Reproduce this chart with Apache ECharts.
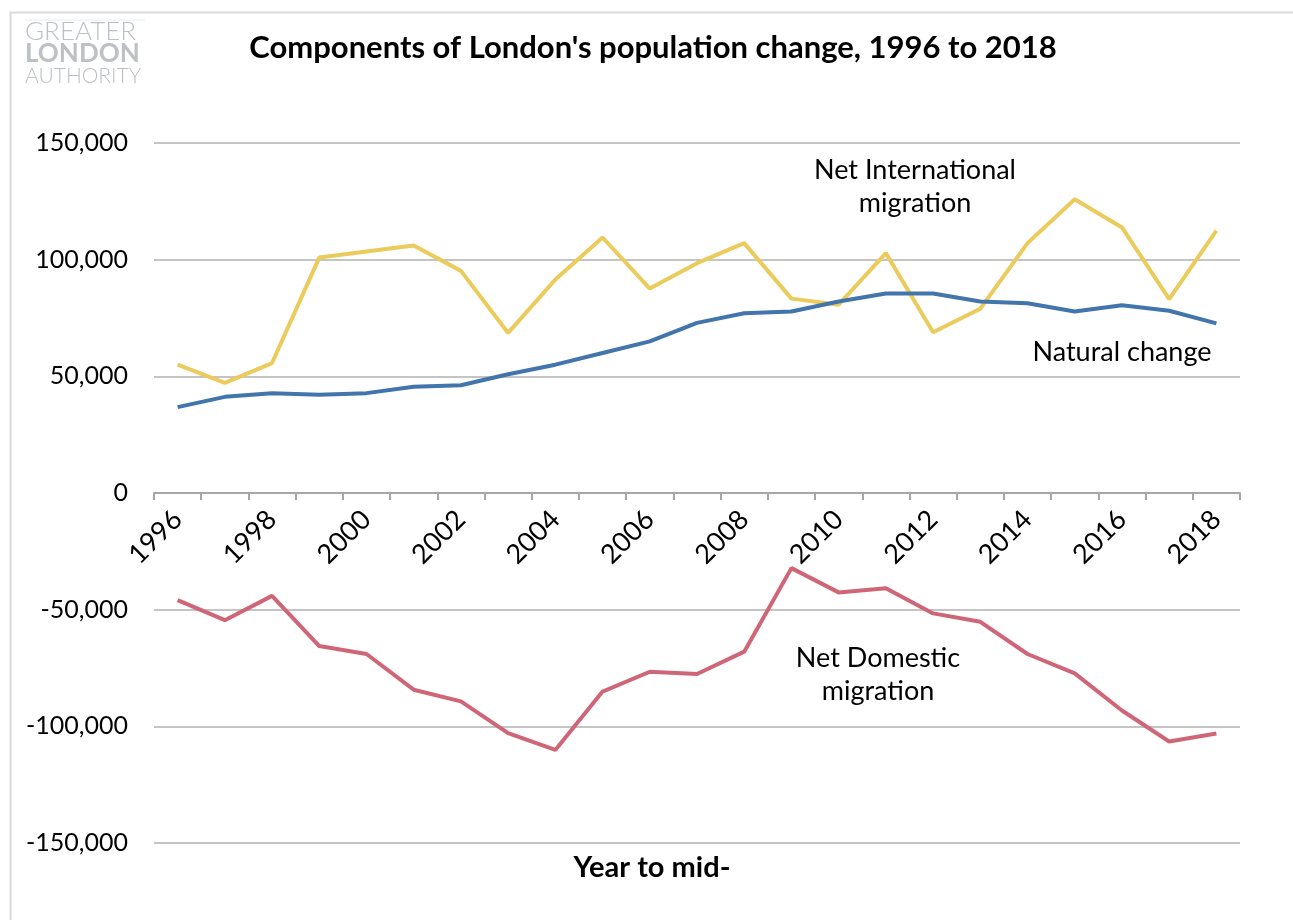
<!DOCTYPE html>
<html>
<head>
<meta charset="utf-8">
<script src="https://cdn.jsdelivr.net/npm/echarts@6/dist/echarts.min.js"></script>
<style>
html,body{margin:0;padding:0;background:#fff;}
#chart{width:1293px;height:920px;}
</style>
</head>
<body>
<div id="chart"></div>
<script>
// ---- data ----
var years = ['1996','1997','1998','1999','2000','2001','2002','2003','2004','2005','2006','2007','2008','2009','2010','2011','2012','2013','2014','2015','2016','2017','2018'];
var naturalChange = [36800, 41200, 42800, 42100, 42800, 45500, 46200, 50900, 55000, 60000, 65000, 72900, 77000, 77800, 82100, 85500, 85500, 82100, 81300, 77800, 80500, 78100, 72700];
var netInternational = [55000, 47200, 55700, 100900, 103500, 106100, 95200, 68600, 91500, 109500, 87600, 98500, 107100, 83300, 80700, 102800, 68900, 79000, 107100, 125900, 113800, 83100, 112400];
var netDomestic = [-45900, -54500, -44100, -65600, -69000, -84300, -89300, -102900, -110100, -85100, -76600, -77600, -68000, -32200, -42600, -40800, -51600, -55200, -69000, -77300, -93200, -106500, -103100];
var yMin = -150000, yMax = 150000, yStep = 50000;

var FONT = 'Lato, "Open Sans", sans-serif';
var chart = echarts.init(document.getElementById('chart'), null, {renderer: 'canvas'});

var gridTop = 143, gridBottomPx = 843;
var zeroY = gridTop + (gridBottomPx - gridTop) * (yMax - 0) / (yMax - yMin);

var option = {
  backgroundColor: '#ffffff',
  animation: false,
  textStyle: {fontFamily: FONT},
  grid: {left: 154, right: 53, top: gridTop, bottom: 920 - gridBottomPx, containLabel: false},
  xAxis: {
    type: 'category',
    data: years,
    boundaryGap: true,
    position: 'bottom',
    offset: -(gridBottomPx - zeroY),
    axisLine: {onZero: false, lineStyle: {color: '#A6A6A6', width: 2}},
    axisTick: {show: true, interval: 0, length: 7, lineStyle: {color: '#A6A6A6', width: 2}},
    axisLabel: {interval: 1, rotate: 45, margin: 22, fontSize: 27, color: '#000', fontFamily: FONT},
    splitLine: {show: false}
  },
  yAxis: {
    type: 'value',
    min: yMin, max: yMax, interval: yStep,
    axisLine: {show: false},
    axisTick: {show: false},
    axisLabel: {fontSize: 25, color: '#000', margin: 26, fontFamily: FONT,
      formatter: function (v) { return v.toLocaleString('en-US'); }},
    splitLine: {lineStyle: {color: '#C4C4C4', width: 2}}
  },
  series: [
    {name: 'Natural change', type: 'line', data: naturalChange, symbol: 'none',
     lineStyle: {color: '#4175AB', width: 4}, itemStyle: {color: '#4175AB'}, z: 3},
    {name: 'Net International migration', type: 'line', data: netInternational, symbol: 'none',
     lineStyle: {color: '#EBCB5B', width: 4}, itemStyle: {color: '#EBCB5B'}, z: 2},
    {name: 'Net Domestic migration', type: 'line', data: netDomestic, symbol: 'none',
     lineStyle: {color: '#CF6677', width: 4}, itemStyle: {color: '#CF6677'}, z: 2}
  ],
  graphic: [
    {type: 'rect', left: 8, top: 10, shape: {width: 1400, height: 1000}, style: {fill: 'none', stroke: '#D9D9D9', lineWidth: 2}, silent: true, z: -1},
    {type: 'line', shape: {x1: 25, y1: 20, x2: 145, y2: 20}, style: {stroke: '#E6EBF0', lineWidth: 1}},
    {type: 'text', x: 25, y: 32, style: {text: 'GREATER', font: '300 26px ' + FONT, fill: '#BDC1C5', verticalAlign: 'middle'}},
    {type: 'text', x: 25, y: 54, style: {text: 'LONDON', font: 'bold 26px ' + FONT, fill: '#BDC1C5', verticalAlign: 'middle'}},
    {type: 'text', x: 25, y: 76, style: {text: 'AUTHORITY', font: '300 21px ' + FONT, fill: '#BDC1C5', verticalAlign: 'middle'}},
    {type: 'text', x: 653, y: 48, style: {text: "Components of London's population change, 1996 to 2018", font: 'bold 31px ' + FONT, fill: '#000', align: 'center', verticalAlign: 'middle'}},
    {type: 'text', x: 652, y: 868, style: {text: 'Year to mid-', font: 'bold 29px ' + FONT, fill: '#000', align: 'center', verticalAlign: 'middle'}},
    {type: 'text', x: 915, y: 187, style: {text: 'Net International\nmigration', font: '27px ' + FONT, lineHeight: 33, fill: '#000', align: 'center', verticalAlign: 'middle'}},
    {type: 'text', x: 1122, y: 352, style: {text: 'Natural change', font: '27px ' + FONT, fill: '#000', align: 'center', verticalAlign: 'middle'}},
    {type: 'text', x: 878, y: 675, style: {text: 'Net Domestic\nmigration', font: '27px ' + FONT, lineHeight: 33, fill: '#000', align: 'center', verticalAlign: 'middle'}}
  ]
};
chart.setOption(option);
</script>
</body>
</html>
